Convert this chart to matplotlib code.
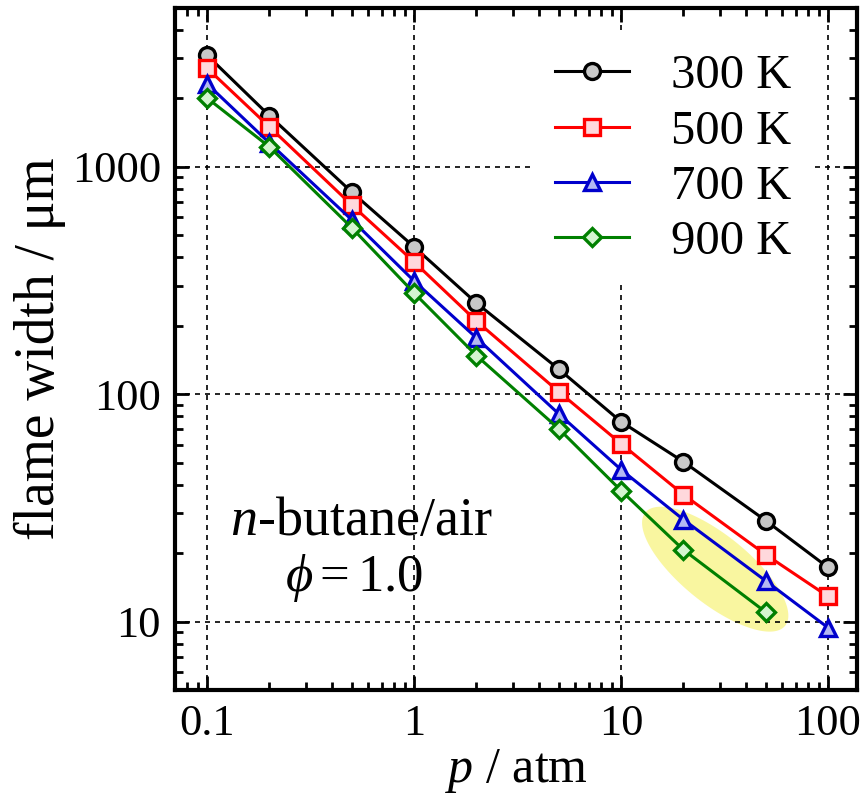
import numpy as np
import matplotlib.pyplot as plt
from matplotlib.ticker import LogLocator, NullFormatter, FixedLocator, FixedFormatter

plt.rcParams['font.family'] = ['Liberation Serif', 'DejaVu Serif']
plt.rcParams['mathtext.fontset'] = 'custom'
plt.rcParams['mathtext.it'] = 'Liberation Serif:italic'
plt.rcParams['mathtext.rm'] = 'Liberation Serif'

# pressure (atm) and flame width (um) for each unburned temperature
p = [0.1, 0.2, 0.5, 1, 2, 5, 10, 20, 50, 100]
w_300 = [3100, 1680, 775, 445, 252, 129, 75.7, 50.5, 27.8, 17.3]
w_500 = [2720, 1500, 680, 382, 210, 102.6, 60.6, 36.2, 19.7, 12.9]
w_700 = [2320, 1275, 585, 315, 177, 82, 46.6, 28.1, 15.1, 9.4]
p_900 = [0.1, 0.2, 0.5, 1, 2, 5, 10, 20, 50]
w_900 = [2010, 1225, 540, 279, 148, 70.5, 37.7, 20.7, 11.0]

fig = plt.figure(figsize=(8.63, 8.0), dpi=100)
ax = fig.add_axes([175 / 863, 1 - 690 / 800, 682 / 863, 682 / 800])
ax.set_xscale('log')
ax.set_yscale('log')
ax.set_xlim(0.07, 138)
ax.set_ylim(5.0, 5000)

# highlight around the high-pressure points
t = np.linspace(0, 2 * np.pi, 200)
cx, cy = np.log10(28.5), np.log10(17.0)
a, b = 90.0, 34.0  # semi-axes in pixels
ang = np.deg2rad(-39)
px = a * np.cos(t) * np.cos(ang) - b * np.sin(t) * np.sin(ang)
py = a * np.cos(t) * np.sin(ang) + b * np.sin(t) * np.cos(ang)
ax.fill(10 ** (cx + px / 207.0), 10 ** (cy + py / 227.5), color='#f8f590', alpha=0.85,
        lw=0, zorder=1)

series = [
    (p, w_300, 'black', '#c8c8c8', 'o', 11.5, '300 K'),
    (p, w_500, '#ff0000', '#ffd8dc', 's', 11, '500 K'),
    (p, w_700, '#0000cc', '#b4b8f2', '^', 12, '700 K'),
    (p_900, w_900, '#008000', '#d4f5d0', 'D', 9.5, '900 K'),
]
for x, y, c, fc, m, ms, lab in series:
    ax.plot(x, y, color=c, lw=2.2, marker=m, ms=ms, mfc=fc, mec=c, mew=2.4,
            label=lab, zorder=3)

ax.grid(True, which='major', color='black', ls=(0, (3, 3)), lw=1.2)

ax.tick_params(which='both', direction='in', top=True, right=True, labelsize=32,
               width=2)
ax.tick_params(which='major', length=10, pad=10)
ax.tick_params(which='minor', length=6)
ax.xaxis.set_major_locator(FixedLocator([0.1, 1, 10, 100]))
ax.xaxis.set_major_formatter(FixedFormatter(['0.1', '1', '10', '100']))
ax.yaxis.set_major_locator(FixedLocator([10, 100, 1000]))
ax.yaxis.set_major_formatter(FixedFormatter(['10', '100', '1000']))
ax.xaxis.set_minor_locator(LogLocator(base=10, subs=np.arange(2, 10), numticks=20))
ax.yaxis.set_minor_locator(LogLocator(base=10, subs=np.arange(2, 10), numticks=20))
ax.xaxis.set_minor_formatter(NullFormatter())
ax.yaxis.set_minor_formatter(NullFormatter())
for s in ax.spines.values():
    s.set_linewidth(3)

ax.set_xlabel(r'$p$ / atm', fontsize=36, labelpad=2)
ax.set_ylabel('flame width / μm', fontsize=40, labelpad=4)

ax.text(0.274, 0.246, r'$n$-butane/air', transform=ax.transAxes, fontsize=39,
        ha='center', va='center')
ax.text(0.262, 0.164, r'$\phi = 1.0$', transform=ax.transAxes, fontsize=38,
        ha='center', va='center')

# opaque white legend box hides the grid behind it
leg = ax.legend(loc='upper left', bbox_to_anchor=(535 / 863, 1 - 34 / 800),
                bbox_transform=fig.transFigure, fontsize=35, frameon=True,
                fancybox=False, framealpha=1, edgecolor='none', facecolor='white',
                handlelength=1.52, handletextpad=0.86, labelspacing=0.23,
                borderpad=0.42, borderaxespad=0)
leg.set_zorder(5)

fig.savefig('out.png', dpi=100)
